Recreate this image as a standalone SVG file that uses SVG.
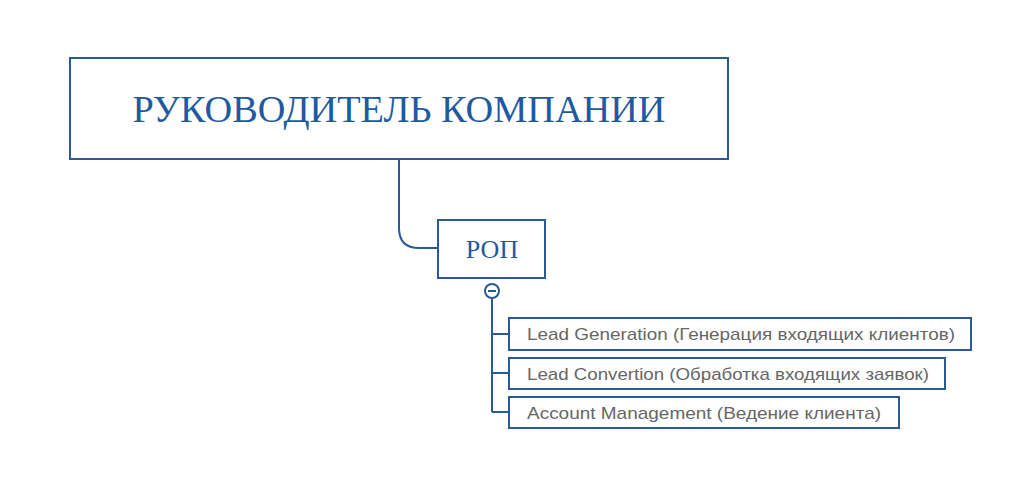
<svg xmlns="http://www.w3.org/2000/svg" width="1024" height="482" viewBox="0 0 1024 482">
<style>
.b{fill:#fff;stroke:#2a5a96;stroke-width:2}
.c{fill:none;stroke:#2a5a96;stroke-width:2}
.t{font-family:"Liberation Serif",serif;fill:#1f5aa0;text-anchor:middle}
.s{font-family:"Liberation Sans",sans-serif;font-size:17px;fill:#666}
</style>
<rect width="1024" height="482" fill="#fff"/>
<g id="connectors">
<path class="c" d="M399,159 V228 Q399,248 419,248 H438"/>
<path class="c" d="M492,298 V412 M492,334 H509 M492,373 H509 M492,412 H509"/>
<circle class="c" cx="492" cy="291" r="7" fill="#fff"/>
<path class="c" d="M488,291 H496" stroke-width="1.5"/>
</g>
<g id="n1"><rect class="b" x="70" y="58" width="658" height="101"/><text class="t" x="399" y="122" font-size="38" textLength="533" lengthAdjust="spacingAndGlyphs">РУКОВОДИТЕЛЬ КОМПАНИИ</text></g>
<g id="n2"><rect class="b" x="438" y="220" width="107" height="58"/><text class="t" x="492" y="258" font-size="26">РОП</text></g>
<g id="n3"><rect class="b" x="509" y="318" width="462" height="32"/><text class="s" x="527" y="340" textLength="428" lengthAdjust="spacingAndGlyphs">Lead Generation (Генерация входящих клиентов)</text></g>
<g id="n4"><rect class="b" x="509" y="358" width="436" height="31"/><text class="s" x="527" y="380" textLength="402" lengthAdjust="spacingAndGlyphs">Lead Convertion (Обработка входящих заявок)</text></g>
<g id="n5"><rect class="b" x="509" y="397" width="390" height="31"/><text class="s" x="527" y="419" textLength="354" lengthAdjust="spacingAndGlyphs">Account Management (Ведение клиента)</text></g>
</svg>
